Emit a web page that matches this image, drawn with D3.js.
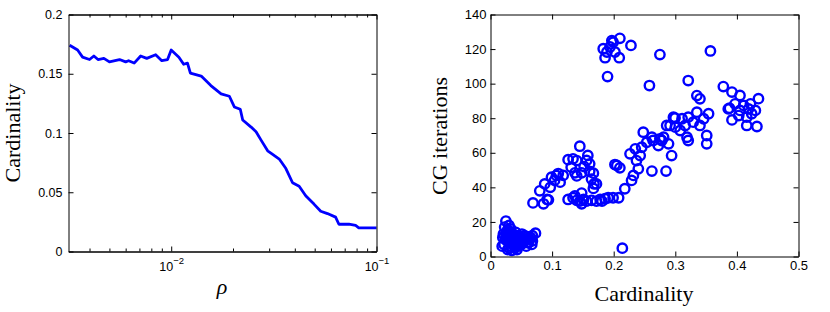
<!DOCTYPE html>
<html>
<head>
<meta charset="utf-8">
<script src="https://cdn.jsdelivr.net/npm/d3@7"></script>
<style>
  body { margin: 0; background: #fff; }
  svg { display: block; }
  .tick text { font-family: "Liberation Sans", Arial, sans-serif; fill: #000; }
  .lbl { font-family: "Liberation Serif", "Times New Roman", serif; fill: #000; }
</style>
</head>
<body>
<div id="canvas"></div>
<script>
// left panel: cardinality vs rho (log x)
const rho = [0.0032, 0.0035, 0.0037, 0.0040, 0.0042, 0.0044, 0.0047, 0.0050, 0.0056, 0.0060,
  0.0062, 0.0066, 0.0071, 0.0076, 0.0084, 0.0090, 0.0096, 0.0100, 0.0109, 0.0115,
  0.0120, 0.0124, 0.0140, 0.0156, 0.0175, 0.0192, 0.0203, 0.0217, 0.0223, 0.0245,
  0.0259, 0.0274, 0.0295, 0.0312, 0.0336, 0.0362, 0.0390, 0.0420, 0.0452, 0.0496,
  0.0535, 0.0577, 0.0632, 0.0656, 0.0734, 0.0791, 0.0820, 0.1000];
const card = [0.174, 0.170, 0.164, 0.162, 0.165, 0.162, 0.163, 0.160, 0.162, 0.160,
  0.161, 0.159, 0.165, 0.163, 0.166, 0.161, 0.162, 0.170, 0.164, 0.158,
  0.159, 0.1505, 0.148, 0.140, 0.133, 0.131, 0.122, 0.120, 0.111, 0.105,
  0.101, 0.094, 0.085, 0.082, 0.078, 0.070, 0.058, 0.055, 0.047, 0.040,
  0.034, 0.032, 0.029, 0.023, 0.023, 0.022, 0.020, 0.020];

// right panel: CG iterations vs cardinality
const scatterCard = [
  0.025, 0.023, 0.028, 0.033, 0.025, 0.030, 0.020, 0.035, 0.040, 0.045, 0.050, 0.055, 0.060,
  0.065, 0.073, 0.068, 0.062, 0.055, 0.048, 0.042, 0.038, 0.032, 0.027, 0.022, 0.019, 0.030,
  0.035, 0.040, 0.045, 0.050, 0.058, 0.067, 0.028, 0.038, 0.052, 0.024, 0.043, 0.030, 0.068,
  0.026, 0.031, 0.036, 0.041, 0.046, 0.051, 0.057, 0.063, 0.033, 0.039, 0.047, 0.053, 0.021,
  0.029, 0.036, 0.044, 0.060,
  0.069, 0.080, 0.086, 0.094, 0.088, 0.099, 0.107, 0.113, 0.118, 0.104, 0.092, 0.097, 0.110,
  0.126, 0.134, 0.140, 0.145, 0.148, 0.151, 0.156, 0.164, 0.172, 0.178, 0.186, 0.191, 0.199,
  0.208, 0.137, 0.181,
  0.126, 0.134, 0.131, 0.137, 0.140, 0.148, 0.156, 0.161, 0.164, 0.167, 0.172, 0.148, 0.158,
  0.145, 0.140, 0.161, 0.167, 0.152, 0.168,
  0.202, 0.210, 0.205, 0.214,
  0.218, 0.229, 0.232, 0.240, 0.237, 0.2265, 0.243, 0.235, 0.2455, 0.248, 0.2537, 0.262,
  0.2725, 0.275, 0.281, 0.289, 0.294, 0.262, 0.285, 0.286, 0.297, 0.300, 0.308, 0.311, 0.316,
  0.321, 0.319, 0.321, 0.329, 0.335, 0.340, 0.346, 0.354, 0.351, 0.351, 0.335, 0.340, 0.321,
  0.258, 0.2915, 0.2996, 0.264, 0.278,
  0.378, 0.392, 0.405, 0.435, 0.386, 0.397, 0.411, 0.422, 0.430, 0.392, 0.403, 0.416, 0.416,
  0.4325, 0.424, 0.405, 0.419, 0.388,
  0.183, 0.197, 0.210, 0.189, 0.194, 0.202, 0.186, 0.209, 0.199, 0.228, 0.190, 0.275, 0.357];
const scatterIter = [
  20.5, 17, 15.5, 16, 13, 12.5, 11, 11, 12, 12, 11, 12, 11.5,
  11, 13.5, 9, 8, 9, 8, 9, 7, 8, 9, 7, 6, 5,
  3.5, 5, 6, 7, 6, 7, 4, 10, 10, 10, 4, 18, 12,
  14, 14, 13, 14, 10, 13, 10, 10, 6, 6, 10, 8, 13,
  11, 8, 7, 8,
  31, 38, 30.5, 32.8, 42, 45.9, 46.9, 43, 46.9, 44, 33, 40, 48,
  33, 34, 32.5, 32, 30.5, 33, 32, 32.5, 32, 33, 33.4, 34, 34,
  34, 35, 32,
  56, 56.5, 51.7, 48.4, 46.6, 48.4, 55.6, 49.3, 44.8, 39.4, 42, 36.7, 58.5,
  63.8, 55.5, 53.6, 48.2, 52, 42,
  53.2, 51.3, 52.7, 4.8,
  39.2, 44, 46.9, 50.7, 55.5, 59.4, 58.4, 62.3, 63.2, 71.9, 66.1, 69,
  64.2, 68.1, 69, 65.2, 58.4, 49.4, 49.4, 75.8, 80.6, 74.8, 72.9, 79.7, 75.8,
  80.6, 69, 67.1, 77.7, 83.5, 75.8, 79.7, 82.6, 70, 65.2, 93.1, 91.2, 101.8,
  98.9, 75.8, 80.1, 67.1, 67.1,
  98.3, 95.1, 93.2, 91.3, 85.4, 88.3, 87.4, 88.3, 84.5, 79, 81.5, 80.6, 75.8,
  75.2, 82.6, 84.5, 85.4, 85.8,
  120.2, 124.9, 126.2, 118.3, 121.2, 118.3, 115, 115, 124, 122.1, 104.1, 116.8, 118.9];

const leftYTicks = [0, 0.05, 0.1, 0.15, 0.2];
const logMajor = [0.01, 0.1];
const logExp = ["\u22122", "\u22121"];
const logMinor = [0.004, 0.005, 0.006, 0.007, 0.008, 0.009, 0.02, 0.03, 0.04, 0.05, 0.06, 0.07, 0.08, 0.09];
const rightYTicks = [0, 20, 40, 60, 80, 100, 120, 140];
const rightXTicks = [0, 0.1, 0.2, 0.3, 0.4, 0.5];

const width = 830;
const height = 312;
const blue = "#0000ff";

const svg = d3.select("#canvas").append("svg")
  .attr("width", width)
  .attr("height", height);

const styleAxis = (g) => {
  g.selectAll(".domain").attr("stroke", "#000").attr("stroke-width", 1);
  g.selectAll(".tick line").attr("stroke", "#000");
};

// ---------- left ----------
const L = { x0: 68.5, x1: 376.5, y0: 14.5, y1: 251.5 };

const xLog = d3.scaleLog().domain([0.00316, 0.1]).range([L.x0, L.x1]);
const yCard = d3.scaleLinear().domain([0, 0.2]).range([L.y1, L.y0]);

const gl = svg.append("g");

gl.append("path")
  .datum(rho.map((r, i) => [r, card[i]]))
  .attr("fill", "none")
  .attr("stroke", blue)
  .attr("stroke-width", 2.8)
  .attr("stroke-linejoin", "round")
  .attr("d", d3.line().x(d => xLog(d[0])).y(d => yCard(d[1])));

gl.append("g").attr("transform", `translate(${L.x0},0)`)
  .call(d3.axisLeft(yCard).tickValues(leftYTicks).tickSizeInner(-5).tickSizeOuter(0)
    .tickPadding(6).tickFormat(d => String(d)))
  .call(styleAxis)
  .selectAll("text").style("font-size", "12.5px");
gl.append("g").attr("transform", `translate(${L.x1},0)`)
  .call(d3.axisRight(yCard).tickValues(leftYTicks).tickSizeInner(-5).tickSizeOuter(0).tickFormat(""))
  .call(styleAxis);

[["bottom", L.y1], ["top", L.y0]].forEach(([side, y]) => {
  const mk = side === "bottom" ? d3.axisBottom : d3.axisTop;
  gl.append("g").attr("transform", `translate(0,${y})`)
    .call(mk(xLog).tickValues(logMinor).tickSizeInner(-3).tickSizeOuter(0).tickFormat(""))
    .call(styleAxis);
  const ga = gl.append("g").attr("transform", `translate(0,${y})`)
    .call(mk(xLog).tickValues(logMajor).tickSizeInner(-5).tickSizeOuter(0).tickFormat(""))
    .call(styleAxis);
  if (side === "bottom") {
    ga.selectAll(".tick text").remove();
    ga.selectAll(".tick").append("text")
      .attr("text-anchor", "middle")
      .attr("y", 19)
      .style("font-size", "12.5px")
      .each(function (d, i) {
        const t = d3.select(this);
        t.append("tspan").text("10");
        t.append("tspan").attr("dy", -7).style("font-size", "9.5px").text(logExp[i]);
      });
  }
});

gl.append("text").attr("class", "lbl")
  .attr("transform", "translate(20,133) rotate(-90)")
  .attr("text-anchor", "middle")
  .style("font-size", "22px")
  .text("Cardinality");

gl.append("text").attr("class", "lbl")
  .attr("x", 222).attr("y", 294)
  .attr("text-anchor", "middle")
  .style("font-size", "22px").style("font-style", "italic")
  .text("\u03c1");

// ---------- right ----------
const R = { x0: 490.5, x1: 798.5, y0: 14.5, y1: 256.5 };

const xCard = d3.scaleLinear().domain([0, 0.5]).range([R.x0, R.x1]);
const yIter = d3.scaleLinear().domain([0, 140]).range([R.y1, R.y0]);

const gr = svg.append("g");

gr.selectAll("circle")
  .data(scatterCard.map((c, i) => [c, scatterIter[i]]))
  .enter()
  .append("circle")
  .attr("cx", d => xCard(d[0]))
  .attr("cy", d => yIter(d[1]))
  .attr("r", 4.7)
  .attr("fill", "none")
  .attr("stroke", blue)
  .attr("stroke-width", 2.4);

gr.append("g").attr("transform", `translate(${R.x0},0)`)
  .call(d3.axisLeft(yIter).tickValues(rightYTicks).tickSizeInner(-5).tickSizeOuter(0).tickPadding(4))
  .call(styleAxis)
  .selectAll("text").style("font-size", "13px");
gr.append("g").attr("transform", `translate(${R.x1},0)`)
  .call(d3.axisRight(yIter).tickValues(rightYTicks).tickSizeInner(-5).tickSizeOuter(0).tickFormat(""))
  .call(styleAxis);
gr.append("g").attr("transform", `translate(0,${R.y1})`)
  .call(d3.axisBottom(xCard).tickValues(rightXTicks).tickSizeInner(-5).tickSizeOuter(0)
    .tickPadding(4).tickFormat(d => String(d)))
  .call(styleAxis)
  .selectAll("text").style("font-size", "13px");
gr.append("g").attr("transform", `translate(0,${R.y0})`)
  .call(d3.axisTop(xCard).tickValues(rightXTicks).tickSizeInner(-5).tickSizeOuter(0).tickFormat(""))
  .call(styleAxis);

gr.append("text").attr("class", "lbl")
  .attr("transform", "translate(447,136) rotate(-90)")
  .attr("text-anchor", "middle")
  .style("font-size", "22px")
  .text("CG iterations");

gr.append("text").attr("class", "lbl")
  .attr("x", 644).attr("y", 301)
  .attr("text-anchor", "middle")
  .style("font-size", "22px")
  .text("Cardinality");
</script>
</body>
</html>
